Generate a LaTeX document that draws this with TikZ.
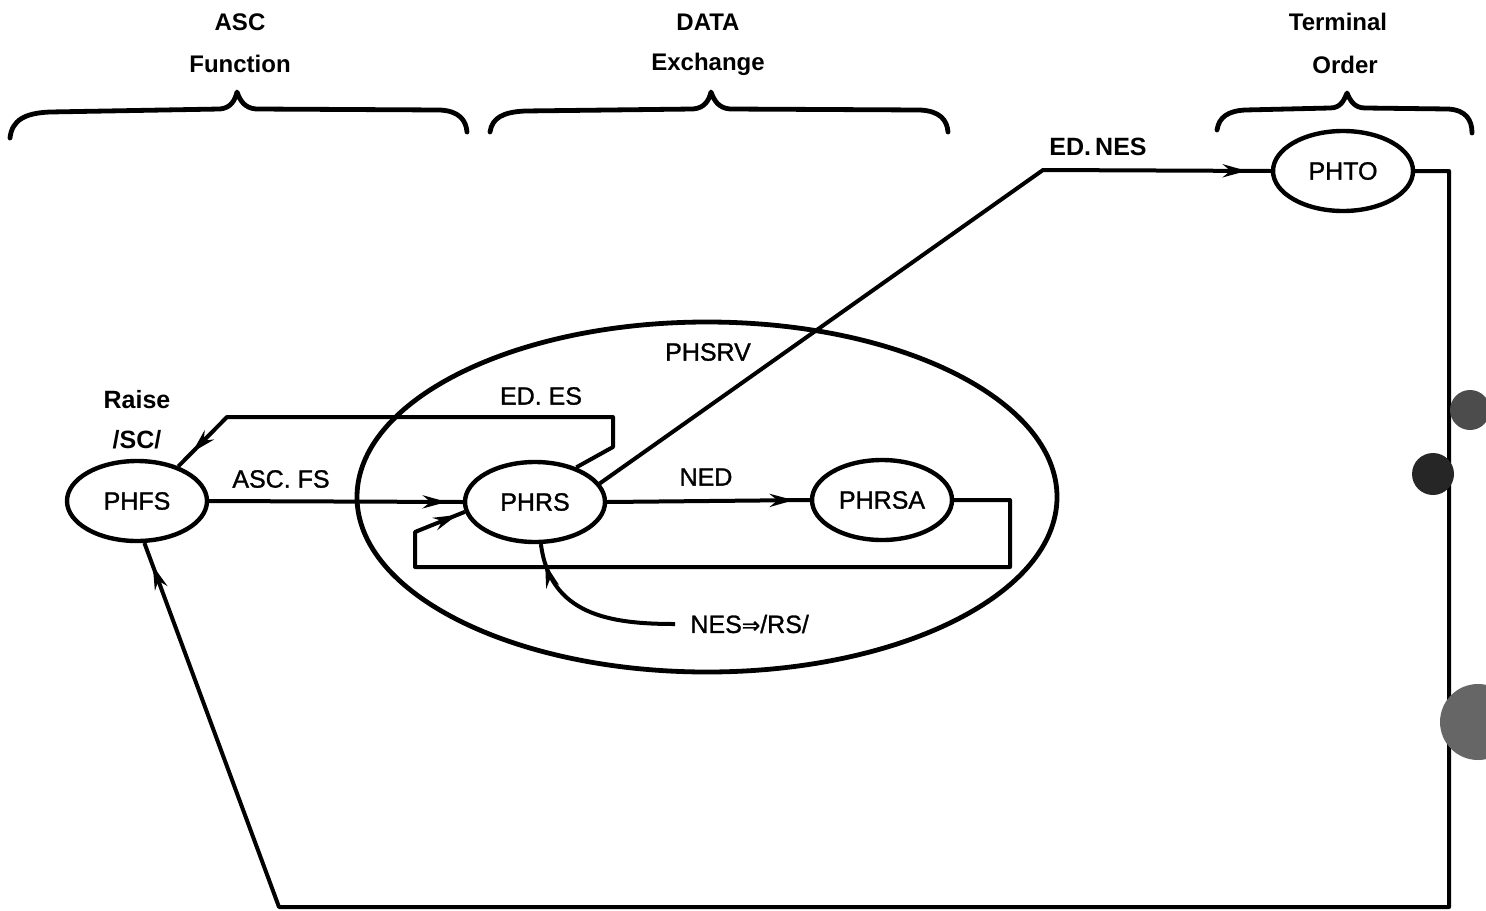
\documentclass[tikz,border=0pt]{standalone}
\usepackage{fontspec}
\setmainfont{Liberation Sans}
\newfontfamily\medfont[FakeBold=1.2]{Liberation Sans}
\newfontfamily\symfont[FakeBold=1.2]{DejaVu Sans}
\usetikzlibrary{arrows.meta,shapes.geometric,decorations.markings}
\begin{document}
\begin{tikzpicture}[x=0.5pt,y=-0.5pt,
  line join=round,
  state/.style={draw,ellipse,line width=2.2pt,inner sep=0pt,minimum width=70pt,minimum height=40pt,font=\medfont\fontsize{12.5}{14}\selectfont},
  big/.style={draw,ellipse,line width=2.4pt,minimum width=350pt,minimum height=175pt},
  conn/.style={line width=2pt},
  tipat/.style={postaction={decorate,decoration={markings,mark=at position #1 with {\arrow{Stealth[length=12pt,width=6.5pt]}}}}},
  lbl/.style={font=\medfont\fontsize{12.5}{14}\selectfont,inner sep=0pt},
  lblb/.style={font=\fontsize{12.5}{14}\selectfont\bfseries,inner sep=0pt},
  head/.style={font=\fontsize{12}{14}\selectfont\bfseries,inner sep=0pt},
  brace/.style={line width=2.4pt,line cap=round},
  hole/.style={fill=black!85}
]
\useasboundingbox (0,0) rectangle (1486,910);

% headings
\node[head] (h1a) at (240,22) {ASC};
\node[head] (h1b) at (240,64) {Function};
\node[head] (h2a) at (708,22) {DATA};
\node[head] (h2b) at (708,64) {Exchange};
\node[head] (h3a) at (1338,22) {Terminal};
\node[head] (h3b) at (1345,65) {Order};

% braces
\draw[brace] (10,138) .. controls (12,120) and (25,113) .. (50,112) -- (220,109) .. controls (231,108) and (235,100) .. (237,92) .. controls (240,100) and (244,108) .. (256,109) -- (440,110) .. controls (459,111) and (466,120) .. (467,132);
\draw[brace] (490,132) .. controls (492,118) and (503,112) .. (525,111) -- (693,109) .. controls (705,108) and (709,100) .. (711,92) .. controls (714,100) and (718,108) .. (730,109) -- (920,110) .. controls (940,111) and (947,120) .. (948,132);
\draw[brace] (1217,130) .. controls (1219,117) and (1228,111) .. (1245,110) -- (1330,108) .. controls (1341,108) and (1344,100) .. (1347,93) .. controls (1350,100) and (1354,108) .. (1365,108) -- (1448,109) .. controls (1466,110) and (1472,120) .. (1472,133);

% nodes
\node[big] (phsrv) at (707,497) {};
\node[state] (phfs) at (137,501) {PHFS};
\node[state] (phrs) at (535,502) {PHRS};
\node[state] (phrsa) at (882,500) {PHRSA};
\node[state] (phto) at (1343,171) {PHTO};

% labels
\node[lbl] (lsrv) at (708,352) {PHSRV};
\node[lblb] (lraise) at (137,400) {Raise};
\node[lblb] (lsc) at (137,440) {/SC/};
\node[lbl] (lascfs) at (281,479) {ASC. FS};
\node[lbl] (ledes) at (541,396) {ED. ES};
\node[lbl] (lned) at (706,477) {NED};
\node[lblb] (lednes) at (1098,147) {ED.\,NES};
\node[lbl,anchor=west] (lnes) at (690,624) {NES{\symfont\fontsize{11}{13}\selectfont ⇒}/RS/};

% connectors
\draw[conn,tipat=-8pt] (phfs.east) -- (phrs.west);
\draw[conn,tipat=-8pt] (phrs.east) -- (phrsa.west);
\draw[conn,tipat=-4pt] (phrsa.east) -- (1010,500) -- (1010,567) -- (415,567) -- (415,532) -- (phrs.188);
\draw[conn,tipat=-10pt] (phrs.40) -- (613,447) -- (613,417) -- (227,417) -- (phfs.40);
\draw[conn,tipat=-12pt] (phrs.16) -- (1043,170) -- (phto.west);
\draw[conn,tipat=-12pt] (phto.east) -- (1449,171) -- (1449,907) -- (279,907) -- (phfs.280);
\draw[conn,tipat=-10pt] (lnes.west) ++(-15,0) coordinate (nesstart) (nesstart) .. controls (610,624) and (550,615) .. (phrs.278);

% punch holes
\fill[hole] (1433,474) circle[radius=10.5pt];
\fill[black!70] (1470,410) circle[radius=10pt];
\fill[black!60] (1478,722) circle[radius=19pt];
\end{tikzpicture}
\end{document}
